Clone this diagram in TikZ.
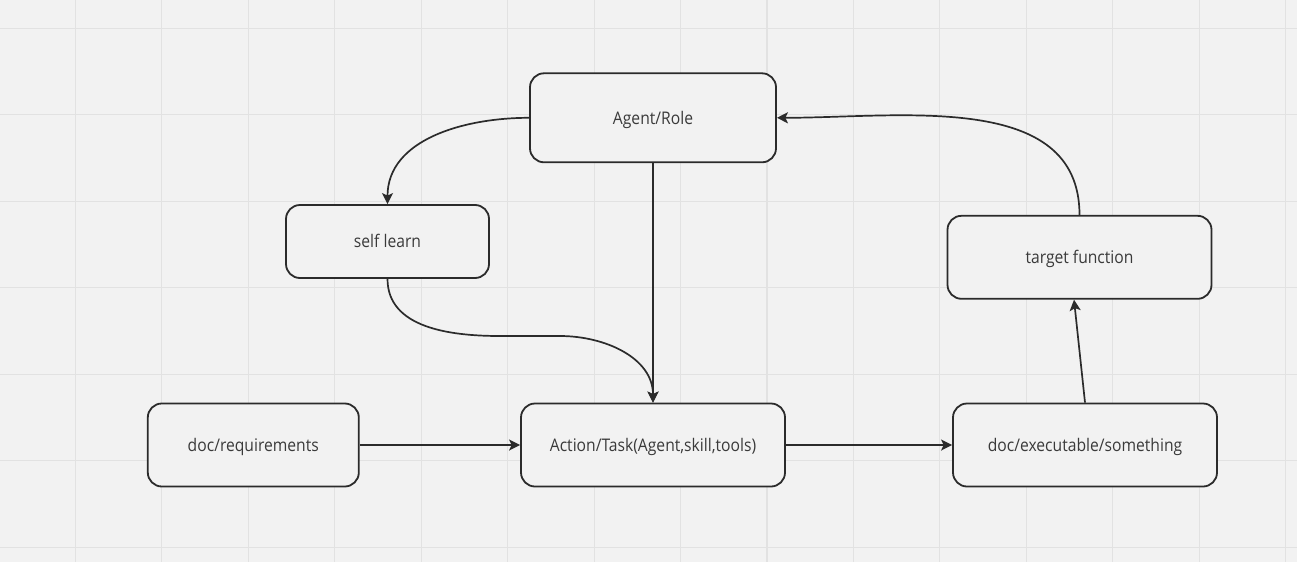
\documentclass[tikz,border=0pt]{standalone}
\usepackage{fontspec}
\setmainfont{Open Sans}
\newfontfamily\lblfont[FakeStretch=0.9]{Open Sans}
\usetikzlibrary{arrows.meta}
\definecolor{bgc}{HTML}{F2F2F2}
\definecolor{gridc}{HTML}{E2E2E2}
\definecolor{edgec}{HTML}{2B2B2B}
\definecolor{txtc}{HTML}{3A3A3A}
\tikzset{
  box/.style={draw=edgec, line width=1.8pt, rounded corners=14pt, fill=bgc,
    inner sep=0pt, text=txtc, text height=12.6pt, text depth=0pt,
    font=\lblfont\fontsize{17.4}{19}\selectfont},
  conn/.style={draw=edgec, line width=1.7pt, -{Stealth[length=11pt,width=11pt,inset=2.5pt]}},
}
\begin{document}
\begin{tikzpicture}[x=1pt,y=-1pt]
\fill[bgc] (0,0) rectangle (1297,562);
\useasboundingbox (0,0) rectangle (1297,562);
% grid
\foreach \k in {0,...,14} {
  \draw[gridc, line width=1.1pt] ({75.3+86.46*\k},0) -- ({75.3+86.46*\k},562);
}
\foreach \k in {0,...,6} {
  \draw[gridc, line width=1.1pt] (0,{28.3+86.46*\k}) -- (1297,{28.3+86.46*\k});
}
% nodes
\node[box, minimum width=246pt, minimum height=89pt] (ag) at (653,117.8) {Agent/Role};
\node[box, minimum width=203pt, minimum height=73pt] (sl) at (387.5,241.5) {self learn};
\node[box, minimum width=264pt, minimum height=83pt] (tf) at (1079.5,257.3) {target function};
\node[box, minimum width=211pt, minimum height=83pt] (req) at (253.3,445) {doc/requirements};
\node[box, minimum width=264pt, minimum height=83pt] (act) at (653,445) {Action/Task(Agent,skill,tools)};
\node[box, minimum width=264pt, minimum height=83pt] (exe) at (1085,445) {doc/executable/something};
\coordinate (m1) at (500,336);
\coordinate (m2) at (560,336);
% connectors
\draw[conn] (ag.west) to[out=180,in=90] (sl.north);
\draw[conn] (ag.south) -- (act.north);
\draw[conn] (sl.south) to[out=-90,in=180] (m1) -- (m2) to[out=0,in=90] (act.north);
\draw[conn] (req.east) -- (act.west);
\draw[conn] (act.east) -- (exe.west);
\draw[conn] (exe.north) -- ([xshift=-5.5pt]tf.south);
\draw[conn] (tf.north) to[out=90,in=0] (ag.east);
\end{tikzpicture}
\end{document}
